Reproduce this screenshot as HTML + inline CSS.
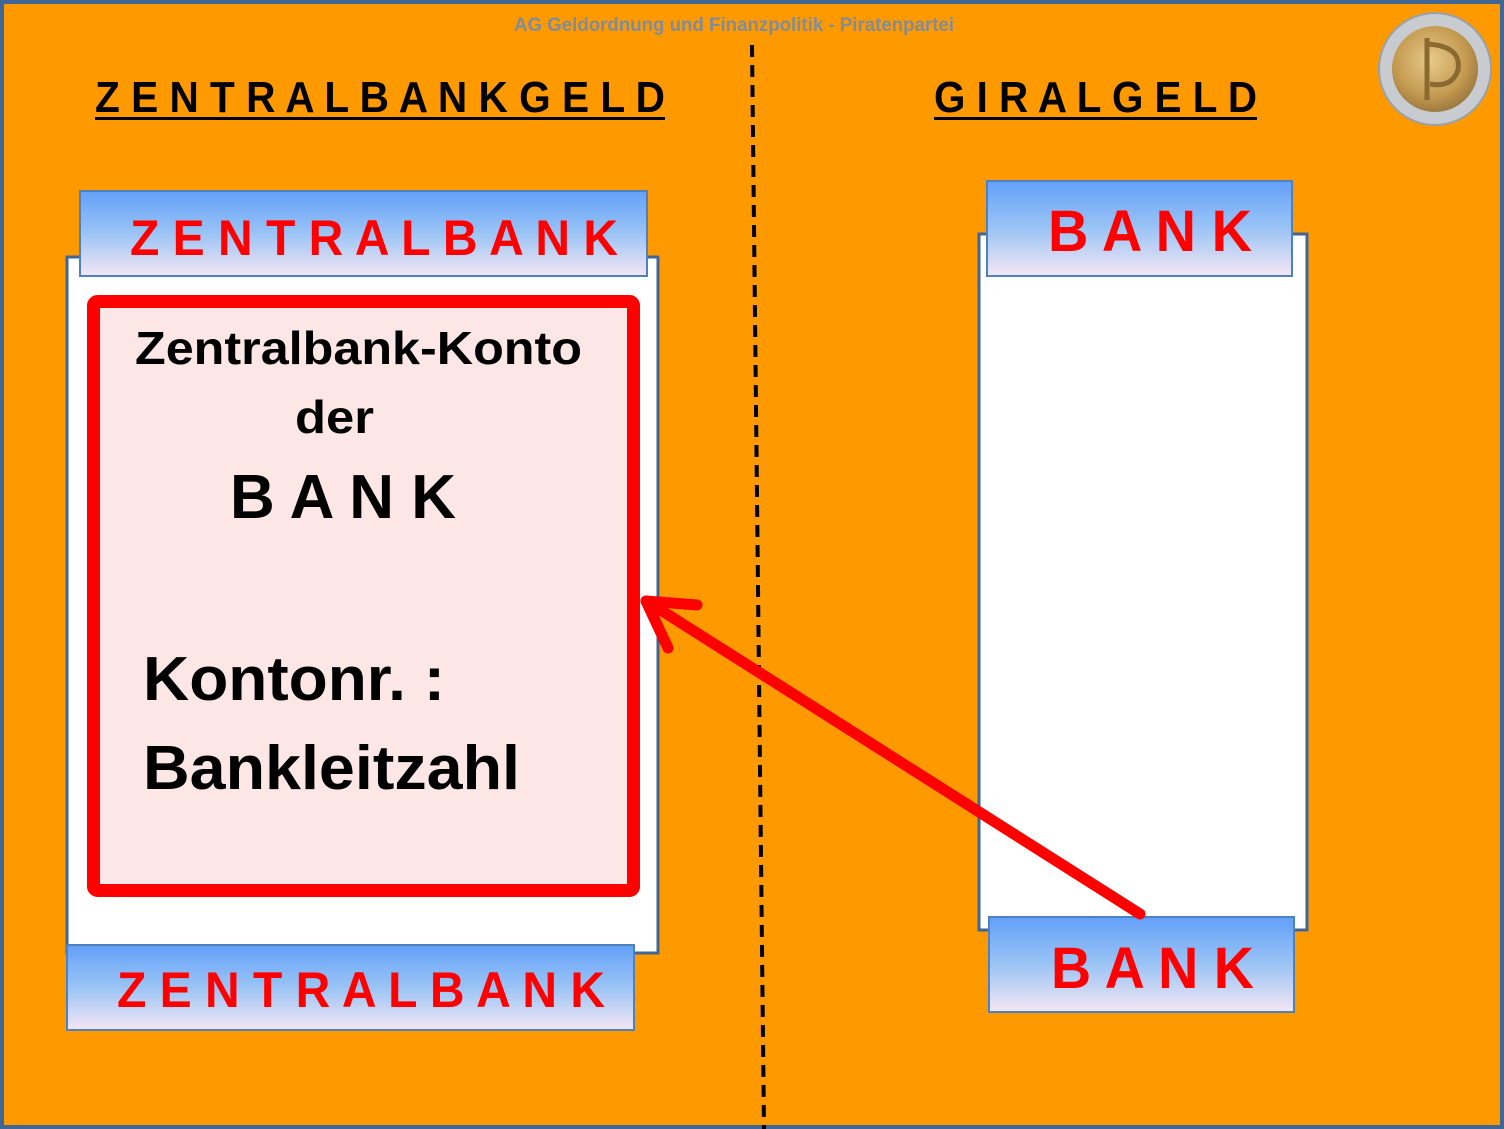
<!DOCTYPE html>
<html><head><meta charset="utf-8"><style>html,body{margin:0;padding:0;background:#FF9900}svg{display:block}</style></head>
<body>
<svg width="1504" height="1129" viewBox="0 0 1504 1129" xmlns="http://www.w3.org/2000/svg" font-family="Liberation Sans, sans-serif" font-weight="bold">
<defs>
<linearGradient id="g" x1="0" y1="0" x2="0" y2="1">
<stop offset="0" stop-color="#63A0FA"/>
<stop offset="0.5" stop-color="#9BC4F5"/>
<stop offset="1" stop-color="#F4E6F4"/>
</linearGradient>
<radialGradient id="coin" cx="0.45" cy="0.4" r="0.6">
<stop offset="0" stop-color="#E8C98A"/>
<stop offset="0.7" stop-color="#C49A50"/>
<stop offset="1" stop-color="#9C7A40"/>
</radialGradient>
</defs>
<rect x="2" y="2" width="1500" height="1125" fill="#FF9900" stroke="#3F6695" stroke-width="4"/>
<text x="514" y="31" font-size="19" fill="#7F8C9C" textLength="440" lengthAdjust="spacingAndGlyphs">AG Geldordnung und Finanzpolitik - Piratenpartei</text>
<!-- coin -->
<circle cx="1435" cy="69" r="56" fill="#C8CCD0" stroke="#9AA0A6" stroke-width="2"/>
<circle cx="1435" cy="69" r="43" fill="url(#coin)"/>
<path d="M1427 38 L1427 100 M1427 44 Q1462 46 1458 70 Q1452 88 1430 84" fill="none" stroke="#8A6A30" stroke-width="5"/>
<!-- headings -->
<text x="95" y="112" font-size="44" fill="#000" textLength="570" lengthAdjust="spacingAndGlyphs">Z E N T R A L B A N K G E L D</text>
<rect x="95" y="117" width="570" height="3" fill="#000"/>
<text x="934" y="112" font-size="44" fill="#000" textLength="323" lengthAdjust="spacingAndGlyphs">G I R A L G E L D</text>
<rect x="934" y="117" width="323" height="3" fill="#000"/>
<!-- dashed divider -->
<line x1="752" y1="45" x2="764" y2="1129" stroke="#000" stroke-width="4" stroke-dasharray="12,8"/>
<!-- left -->
<rect x="67" y="257" width="591" height="696" fill="#fff" stroke="#3F6695" stroke-width="3"/>
<rect x="80" y="191" width="567" height="85" fill="url(#g)" stroke="#4F81BD" stroke-width="2"/>
<text x="130" y="255" font-size="50" fill="#FF0000" textLength="488" lengthAdjust="spacingAndGlyphs">Z E N T R A L B A N K</text>
<rect x="93.5" y="301.5" width="540" height="589" rx="4" fill="#FDE6E6" stroke="#FF0000" stroke-width="13"/>
<text x="135" y="364" font-size="46" fill="#000" textLength="447" lengthAdjust="spacingAndGlyphs" font-weight="bold">Zentralbank-Konto</text>
<text x="295" y="433" font-size="46" fill="#000" textLength="79" lengthAdjust="spacingAndGlyphs">der</text>
<text x="230" y="518" font-size="62" fill="#000" textLength="226" lengthAdjust="spacingAndGlyphs">B A N K</text>
<text x="143" y="700" font-size="62" fill="#000" textLength="302" lengthAdjust="spacingAndGlyphs">Kontonr. :</text>
<text x="143" y="789" font-size="62" fill="#000" textLength="377" lengthAdjust="spacingAndGlyphs">Bankleitzahl</text>
<rect x="67" y="945" width="567" height="85" fill="url(#g)" stroke="#4F81BD" stroke-width="2"/>
<text x="117" y="1007" font-size="50" fill="#FF0000" textLength="488" lengthAdjust="spacingAndGlyphs">Z E N T R A L B A N K</text>
<!-- right -->
<rect x="979" y="234" width="328" height="696" fill="#fff" stroke="#3F6695" stroke-width="3"/>
<rect x="987" y="181" width="305" height="95" fill="url(#g)" stroke="#4F81BD" stroke-width="2"/>
<text x="1048" y="251" font-size="58" fill="#FF0000" textLength="204" lengthAdjust="spacingAndGlyphs">B A N K</text>
<rect x="989" y="917" width="305" height="95" fill="url(#g)" stroke="#4F81BD" stroke-width="2"/>
<text x="1051" y="988" font-size="58" fill="#FF0000" textLength="203" lengthAdjust="spacingAndGlyphs">B A N K</text>
<!-- arrow -->
<g stroke="#FF0000" stroke-width="11" stroke-linecap="round" fill="none">
<line x1="1140" y1="914" x2="648" y2="602"/>
<line x1="646" y1="601" x2="697" y2="605"/>
<line x1="646" y1="601" x2="668" y2="648"/>
</g>
</svg>
</body></html>
